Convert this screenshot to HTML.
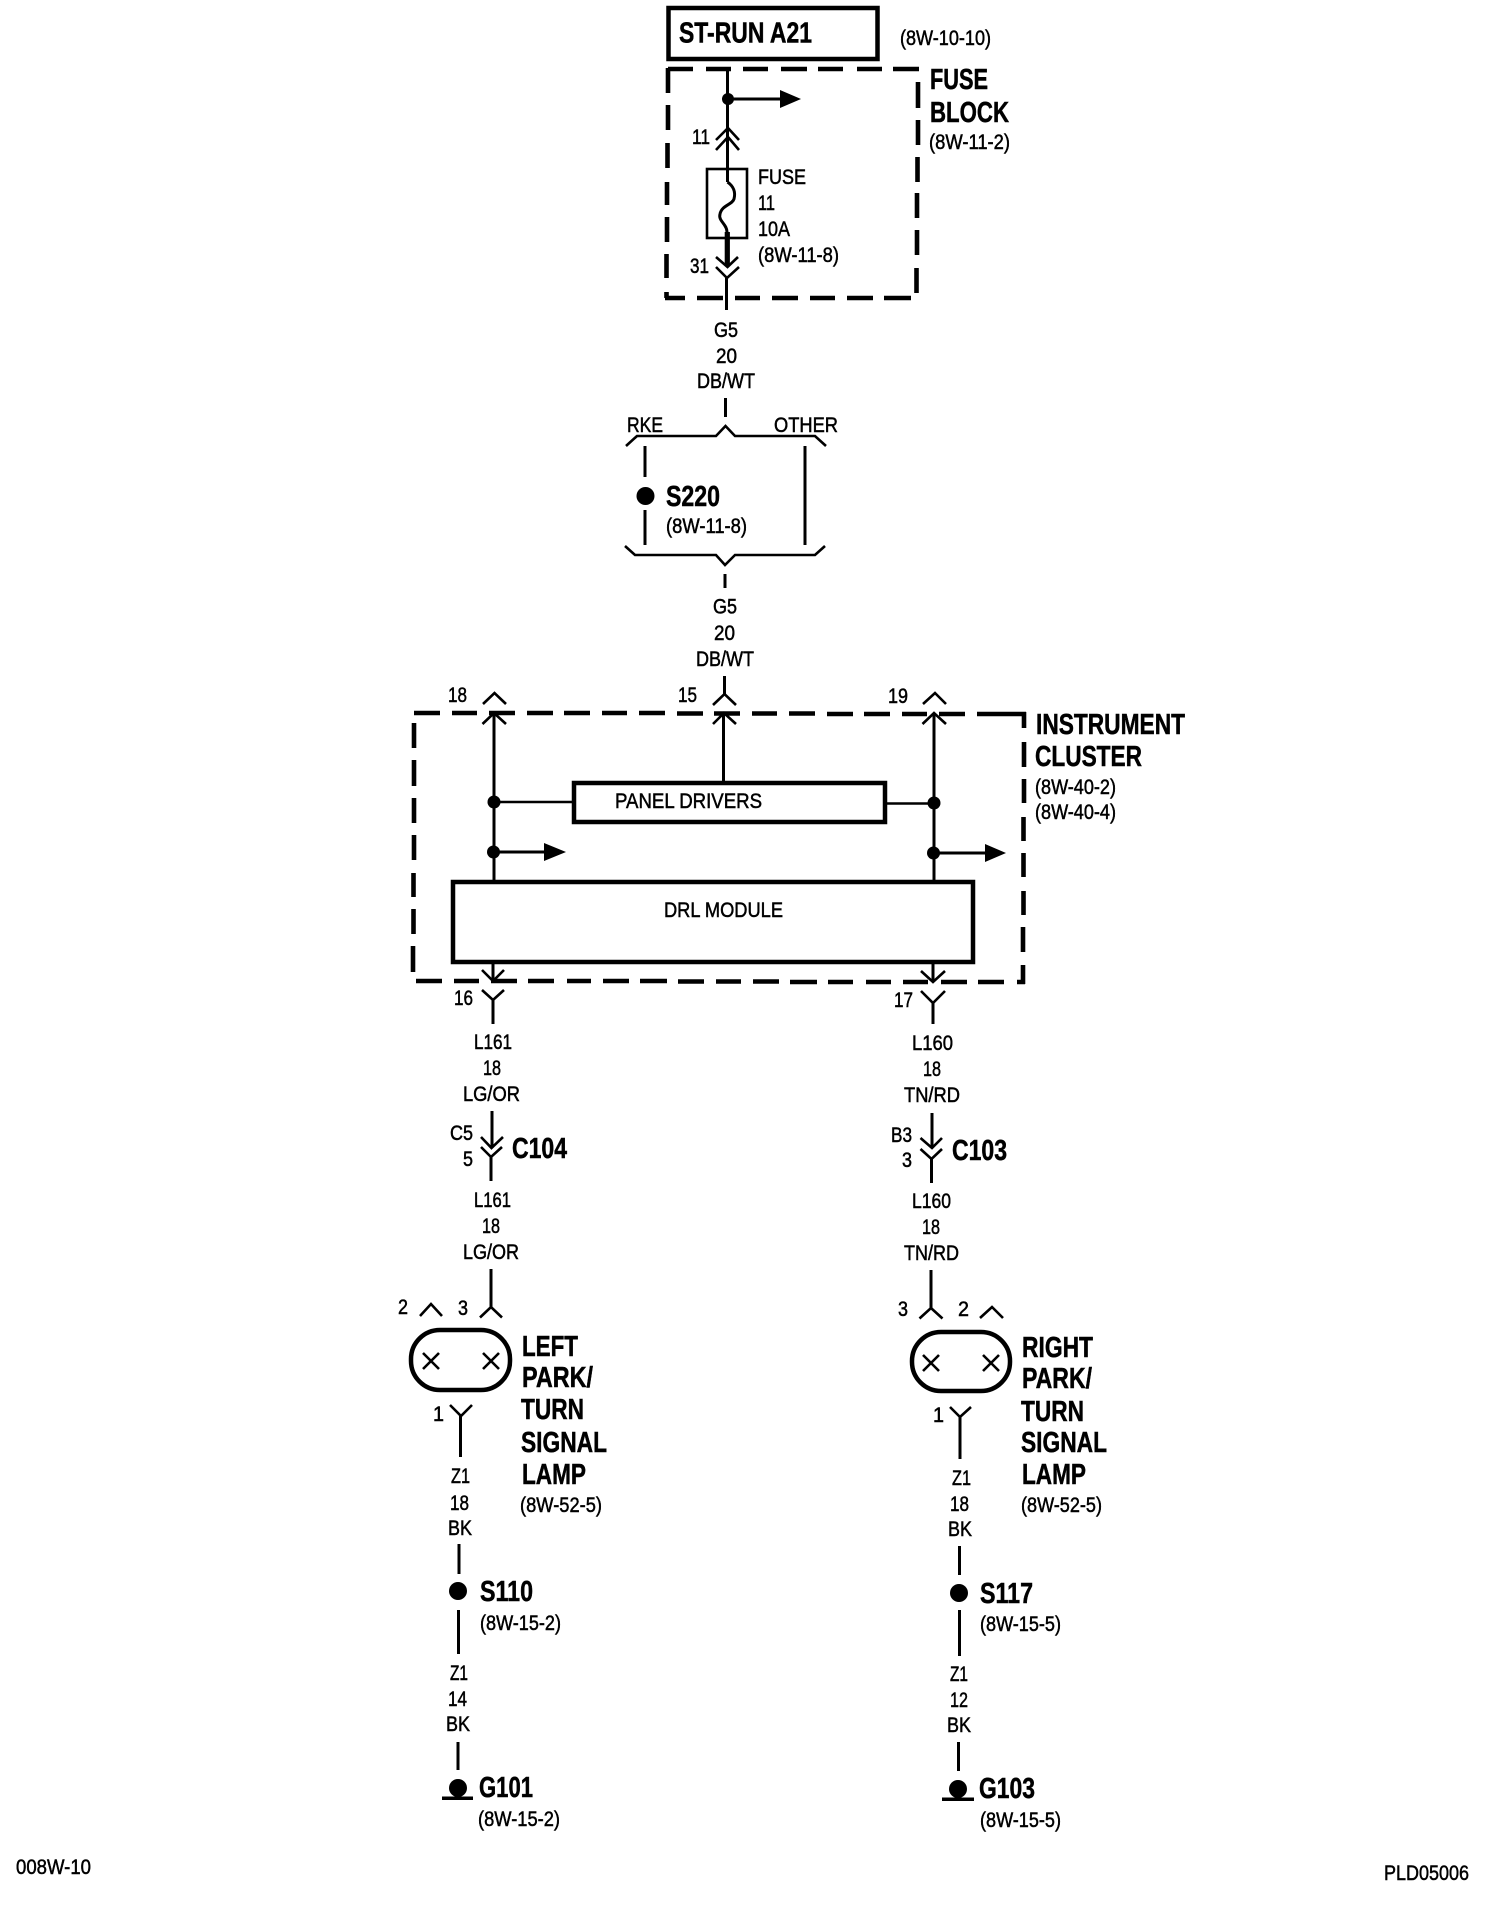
<!DOCTYPE html>
<html lang="en"><head><meta charset="utf-8"><title>Wiring diagram 008W-10</title>
<style>
html,body{margin:0;padding:0;background:#fff}
svg{display:block}
text{font-family:"Liberation Sans",sans-serif;fill:#000}
.r{font-size:21px;stroke:#000;stroke-width:.5}
.b{font-size:29px;font-weight:bold;stroke:#000;stroke-width:.5}
.w{fill:none;stroke:#000;stroke-width:3}
.c{fill:none;stroke:#000;stroke-width:2.6}
.d{fill:none;stroke:#000;stroke-width:4.6}
.box{fill:none;stroke:#000;stroke-width:4.5}
</style></head><body>
<svg xmlns="http://www.w3.org/2000/svg" width="1504" height="1910" viewBox="0 0 1504 1910">
<rect width="1504" height="1910" fill="#fff"/>

<!-- ST-RUN -->
<rect class="box" x="668.5" y="8" width="209" height="51"/>
<text class="b" x="679" y="42.5" textLength="133" lengthAdjust="spacingAndGlyphs">ST-RUN A21</text>
<text class="r" x="900" y="45" textLength="91" lengthAdjust="spacingAndGlyphs">(8W-10-10)</text>

<!-- fuse block dashed -->
<path class="d" d="M668 69H693M706 69H731M743 69H768M781 69H807M818 69H843M857 69H882M893 69H919
M918 82V108M918 120V145M917.5 157V182M917 193V218M917 230V255M916.5 268V293
M665 298H685M697 298H723M735 298H760M772 298H798M810 298H835M847 298H873M884 298H911
M668 68V93M668 105V130M667.5 143V168M667 182V205M667 217V242M666.5 254V278M666.5 292V298"/>
<path class="w" d="M727.5 67V182"/>
<circle cx="728" cy="99" r="6"/>
<path class="w" d="M728 99H782"/>
<path d="M780 90L801 99L780 108Z"/>
<path class="c" d="M716 140L728 128L739 140M716 150L728 137L739 150"/>
<text class="r" x="692" y="144" textLength="18" lengthAdjust="spacingAndGlyphs">11</text>
<rect class="c" x="707" y="169" width="40" height="69"/>
<path class="w" d="M727.5 182C733 186 736 191 734 199C732 205 722 205 720 214C718 221 727 224 727 232"/>
<path d="M724.7 232h5.2V266h-5.2z"/>
<path class="c" d="M716 257L727.5 267L738 257M716 267L727 278L739 267"/>
<path class="w" d="M726.5 278V310"/>
<text class="r" x="690" y="273" textLength="19" lengthAdjust="spacingAndGlyphs">31</text>
<text class="r" x="758" y="184" textLength="48" lengthAdjust="spacingAndGlyphs">FUSE</text>
<text class="r" x="758" y="210" textLength="17" lengthAdjust="spacingAndGlyphs">11</text>
<text class="r" x="758" y="236" textLength="32" lengthAdjust="spacingAndGlyphs">10A</text>
<text class="r" x="758" y="262" textLength="81" lengthAdjust="spacingAndGlyphs">(8W-11-8)</text>
<text class="b" x="930" y="89" textLength="58" lengthAdjust="spacingAndGlyphs">FUSE</text>
<text class="b" x="930" y="122" textLength="79" lengthAdjust="spacingAndGlyphs">BLOCK</text>
<text class="r" x="929" y="149" textLength="81" lengthAdjust="spacingAndGlyphs">(8W-11-2)</text>

<text class="r" x="714" y="337" textLength="24" lengthAdjust="spacingAndGlyphs">G5</text>
<text class="r" x="716" y="363" textLength="21" lengthAdjust="spacingAndGlyphs">20</text>
<text class="r" x="697" y="388" textLength="58" lengthAdjust="spacingAndGlyphs">DB/WT</text>
<path class="w" d="M725.5 398V417"/>

<!-- S220 -->
<text class="r" x="627" y="432" textLength="36" lengthAdjust="spacingAndGlyphs">RKE</text>
<text class="r" x="774" y="432" textLength="64" lengthAdjust="spacingAndGlyphs">OTHER</text>
<path class="c" d="M626 446L637 436H716L725.5 426L735 436H815L826 446"/>
<path class="w" d="M645 446V477M645 510V545M805 446V545"/>
<circle cx="645.5" cy="496" r="9"/>
<text class="b" x="666" y="506" textLength="54" lengthAdjust="spacingAndGlyphs">S220</text>
<text class="r" x="666" y="533" textLength="81" lengthAdjust="spacingAndGlyphs">(8W-11-8)</text>
<path class="c" d="M625 546L635 555H716L725 565L735 555H815L825 546"/>
<path class="w" d="M725 574V588"/>
<text class="r" x="713" y="613.5" textLength="24" lengthAdjust="spacingAndGlyphs">G5</text>
<text class="r" x="714" y="640" textLength="21" lengthAdjust="spacingAndGlyphs">20</text>
<text class="r" x="696" y="666" textLength="58" lengthAdjust="spacingAndGlyphs">DB/WT</text>
<path class="w" d="M724.5 676V694"/>

<!-- top connectors of cluster -->
<path class="c" d="M713 705L724.5 694L736 705M713 724L724 713L736 724"/>
<path class="c" d="M483 704L494.5 693L506 704M482.5 724L494 713L506 724"/>
<path class="c" d="M923 704L935 693L946 704M922.5 724L934 713L946 724"/>
<text class="r" x="448" y="702" textLength="19" lengthAdjust="spacingAndGlyphs">18</text>
<text class="r" x="678" y="702" textLength="19" lengthAdjust="spacingAndGlyphs">15</text>
<text class="r" x="888" y="703" textLength="20" lengthAdjust="spacingAndGlyphs">19</text>

<!-- cluster dashed -->
<path class="d" d="M414 713H440M452 713H477M489 713H515M527 713H553M564 713H590M602 713H627M639 713H665M677 713.5H703M714 713.5H740M752 713.5H777M789 713.5H815M827 714H853M864 714H890M902 714H927M939 714H965M977 714H1026
M1024 712V728M1024 742V767M1024 779V803M1023.5 817V841M1023.5 853V877M1023.5 891V915M1023 927V952M1023 965V984
M416 981H442M454 981H479M491 981H517M528 981H554M567 981H591M603 981H629M640 981H667M678 981.5H704M716 981.5H741M753 981.5H779M790 982H817M828 982H853M866 982H891M903 982H928M941 982H967M978 982H1004M1017 982H1025
M414 723V748M414 760V786M414 798V823M414 835V860M413.5 873V897M413.5 909V934M413 946V972"/>

<!-- cluster wiring -->
<path class="w" d="M494 713V882M934 713V882M723.5 713V783"/>
<circle cx="494" cy="802" r="6.5"/>
<circle cx="493.5" cy="852" r="6.5"/>
<circle cx="934" cy="803" r="6.5"/>
<circle cx="933.5" cy="853" r="6.5"/>
<path class="c" d="M494 802H574M885 803.5H934"/>
<path class="w" d="M494 852H546M934 853H987"/>
<path d="M544 843L566 852L544 861Z"/>
<path d="M985 844L1006 853L985 862Z"/>
<rect class="box" x="574" y="783" width="311" height="39"/>
<text class="r" x="615" y="808" textLength="147" lengthAdjust="spacingAndGlyphs">PANEL DRIVERS</text>
<rect class="box" x="453" y="882" width="520" height="80"/>
<text class="r" x="664" y="917" textLength="119" lengthAdjust="spacingAndGlyphs">DRL MODULE</text>

<text class="b" x="1036" y="734" textLength="149" lengthAdjust="spacingAndGlyphs">INSTRUMENT</text>
<text class="b" x="1035" y="766" textLength="107" lengthAdjust="spacingAndGlyphs">CLUSTER</text>
<text class="r" x="1035" y="794" textLength="81" lengthAdjust="spacingAndGlyphs">(8W-40-2)</text>
<text class="r" x="1035" y="819" textLength="81" lengthAdjust="spacingAndGlyphs">(8W-40-4)</text>

<!-- cluster bottom connectors -->
<path class="w" d="M493 962V981M933 962V982M493 1000V1024M933 1003V1024"/>
<path class="c" d="M482 970L493 981L504 970M482 990L493 1000L504 990"/>
<path class="c" d="M921 971L933 982L945 971M921 991L933 1003L945 991"/>
<text class="r" x="454" y="1005" textLength="19" lengthAdjust="spacingAndGlyphs">16</text>
<text class="r" x="894" y="1007" textLength="19" lengthAdjust="spacingAndGlyphs">17</text>

<!-- LEFT branch -->
<text class="r" x="474" y="1049" textLength="38" lengthAdjust="spacingAndGlyphs">L161</text>
<text class="r" x="483" y="1075" textLength="18" lengthAdjust="spacingAndGlyphs">18</text>
<text class="r" x="463" y="1101" textLength="57" lengthAdjust="spacingAndGlyphs">LG/OR</text>
<path class="w" d="M492 1111V1148M491 1157V1181"/>
<path class="c" d="M481 1137L491.5 1148L503 1137M481 1147L491 1157L502 1147"/>
<text class="r" x="450" y="1140" textLength="23" lengthAdjust="spacingAndGlyphs">C5</text>
<text class="r" x="463" y="1166" textLength="10" lengthAdjust="spacingAndGlyphs">5</text>
<text class="b" x="512" y="1158" textLength="55" lengthAdjust="spacingAndGlyphs">C104</text>
<text class="r" x="474" y="1207" textLength="37" lengthAdjust="spacingAndGlyphs">L161</text>
<text class="r" x="482" y="1233" textLength="18" lengthAdjust="spacingAndGlyphs">18</text>
<text class="r" x="463" y="1259" textLength="56" lengthAdjust="spacingAndGlyphs">LG/OR</text>
<path class="w" d="M491 1269V1307"/>
<path class="c" d="M480 1317.5L491 1307L502 1317.5M420 1316L431 1304L442 1316"/>
<text class="r" x="398" y="1314" textLength="10" lengthAdjust="spacingAndGlyphs">2</text>
<text class="r" x="458" y="1315" textLength="10" lengthAdjust="spacingAndGlyphs">3</text>
<rect x="411" y="1330" width="99" height="60" rx="29" ry="29" fill="none" stroke="#000" stroke-width="4.5"/>
<path class="c" d="M423 1353L439 1369M439 1353L423 1369M483 1353L499 1369M499 1353L483 1369"/>
<text class="b" x="522" y="1356" textLength="56" lengthAdjust="spacingAndGlyphs">LEFT</text>
<text class="b" x="522" y="1387" textLength="71" lengthAdjust="spacingAndGlyphs">PARK/</text>
<text class="b" x="521" y="1419" textLength="63" lengthAdjust="spacingAndGlyphs">TURN</text>
<text class="b" x="521" y="1452" textLength="86" lengthAdjust="spacingAndGlyphs">SIGNAL</text>
<text class="b" x="522" y="1484" textLength="64" lengthAdjust="spacingAndGlyphs">LAMP</text>
<text class="r" x="433" y="1421" textLength="11" lengthAdjust="spacingAndGlyphs">1</text>
<path class="c" d="M450 1405L461 1416L472 1405"/>
<path class="w" d="M460.5 1416V1457"/>
<text class="r" x="451" y="1483" textLength="19" lengthAdjust="spacingAndGlyphs">Z1</text>
<text class="r" x="450" y="1510" textLength="19" lengthAdjust="spacingAndGlyphs">18</text>
<text class="r" x="448" y="1535" textLength="24" lengthAdjust="spacingAndGlyphs">BK</text>
<text class="r" x="520" y="1512" textLength="82" lengthAdjust="spacingAndGlyphs">(8W-52-5)</text>
<path class="w" d="M459 1544V1574M458.5 1610V1654M458 1742V1770"/>
<circle cx="458" cy="1591" r="9"/>
<text class="b" x="480" y="1601" textLength="53" lengthAdjust="spacingAndGlyphs">S110</text>
<text class="r" x="480" y="1630" textLength="81" lengthAdjust="spacingAndGlyphs">(8W-15-2)</text>
<text class="r" x="450" y="1680" textLength="18" lengthAdjust="spacingAndGlyphs">Z1</text>
<text class="r" x="448" y="1706" textLength="19" lengthAdjust="spacingAndGlyphs">14</text>
<text class="r" x="446" y="1731" textLength="24" lengthAdjust="spacingAndGlyphs">BK</text>
<circle cx="458" cy="1788" r="9"/>
<rect x="442" y="1796.5" width="31" height="3.5"/>
<text class="b" x="479" y="1797" textLength="54" lengthAdjust="spacingAndGlyphs">G101</text>
<text class="r" x="478" y="1826" textLength="82" lengthAdjust="spacingAndGlyphs">(8W-15-2)</text>

<!-- RIGHT branch -->
<text class="r" x="912" y="1050" textLength="41" lengthAdjust="spacingAndGlyphs">L160</text>
<text class="r" x="923" y="1076" textLength="18" lengthAdjust="spacingAndGlyphs">18</text>
<text class="r" x="904" y="1102" textLength="56" lengthAdjust="spacingAndGlyphs">TN/RD</text>
<path class="w" d="M932 1113V1148M931.5 1159V1183"/>
<path class="c" d="M920.5 1138L932 1148L942 1138M920.5 1149L931.5 1159L942 1149"/>
<text class="r" x="891" y="1142" textLength="21" lengthAdjust="spacingAndGlyphs">B3</text>
<text class="r" x="902" y="1167" textLength="10" lengthAdjust="spacingAndGlyphs">3</text>
<text class="b" x="952" y="1160" textLength="55" lengthAdjust="spacingAndGlyphs">C103</text>
<text class="r" x="912" y="1208" textLength="39" lengthAdjust="spacingAndGlyphs">L160</text>
<text class="r" x="922" y="1234" textLength="18" lengthAdjust="spacingAndGlyphs">18</text>
<text class="r" x="904" y="1260" textLength="55" lengthAdjust="spacingAndGlyphs">TN/RD</text>
<path class="w" d="M931 1270V1308"/>
<path class="c" d="M919.5 1318.5L931 1308L942.5 1318.5M980 1318L992 1307L1003 1318"/>
<text class="r" x="898" y="1316" textLength="10" lengthAdjust="spacingAndGlyphs">3</text>
<text class="r" x="958" y="1316" textLength="11" lengthAdjust="spacingAndGlyphs">2</text>
<rect x="912" y="1332" width="98" height="59" rx="29" ry="29" fill="none" stroke="#000" stroke-width="4.5"/>
<path class="c" d="M923 1355L939 1371M939 1355L923 1371M983 1355L999 1371M999 1355L983 1371"/>
<text class="b" x="1022" y="1357" textLength="71" lengthAdjust="spacingAndGlyphs">RIGHT</text>
<text class="b" x="1022" y="1388" textLength="70" lengthAdjust="spacingAndGlyphs">PARK/</text>
<text class="b" x="1021" y="1421" textLength="63" lengthAdjust="spacingAndGlyphs">TURN</text>
<text class="b" x="1021" y="1452" textLength="86" lengthAdjust="spacingAndGlyphs">SIGNAL</text>
<text class="b" x="1022" y="1484" textLength="64" lengthAdjust="spacingAndGlyphs">LAMP</text>
<text class="r" x="933" y="1422" textLength="11" lengthAdjust="spacingAndGlyphs">1</text>
<path class="c" d="M950 1407L960 1417L971 1407"/>
<path class="w" d="M960 1417V1459"/>
<text class="r" x="952" y="1485" textLength="19" lengthAdjust="spacingAndGlyphs">Z1</text>
<text class="r" x="950" y="1511" textLength="19" lengthAdjust="spacingAndGlyphs">18</text>
<text class="r" x="948" y="1536" textLength="24" lengthAdjust="spacingAndGlyphs">BK</text>
<text class="r" x="1021" y="1512" textLength="81" lengthAdjust="spacingAndGlyphs">(8W-52-5)</text>
<path class="w" d="M959.5 1546V1575M959.5 1610V1656M958.5 1742V1771"/>
<circle cx="959" cy="1593" r="9"/>
<text class="b" x="980" y="1603" textLength="53" lengthAdjust="spacingAndGlyphs">S117</text>
<text class="r" x="980" y="1631" textLength="81" lengthAdjust="spacingAndGlyphs">(8W-15-5)</text>
<text class="r" x="950" y="1681" textLength="18" lengthAdjust="spacingAndGlyphs">Z1</text>
<text class="r" x="950" y="1707" textLength="18" lengthAdjust="spacingAndGlyphs">12</text>
<text class="r" x="947" y="1732" textLength="24" lengthAdjust="spacingAndGlyphs">BK</text>
<circle cx="958" cy="1789" r="9"/>
<rect x="942" y="1797.5" width="32" height="3.5"/>
<text class="b" x="979" y="1798" textLength="56" lengthAdjust="spacingAndGlyphs">G103</text>
<text class="r" x="980" y="1827" textLength="81" lengthAdjust="spacingAndGlyphs">(8W-15-5)</text>

<!-- footer -->
<text class="r" x="16" y="1874" textLength="75" lengthAdjust="spacingAndGlyphs">008W-10</text>
<text class="r" x="1384" y="1880" textLength="85" lengthAdjust="spacingAndGlyphs">PLD05006</text>
</svg>
</body></html>
